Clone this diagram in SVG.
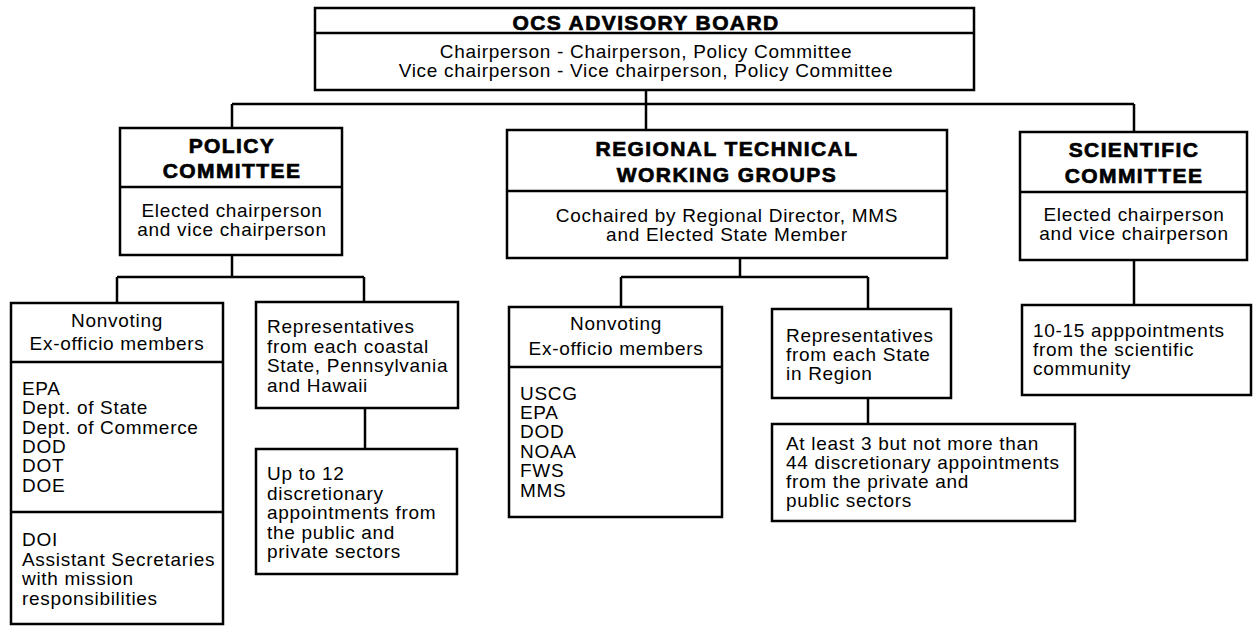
<svg xmlns="http://www.w3.org/2000/svg" width="1253" height="626" viewBox="0 0 1253 626">
<style>
.box{fill:#fff;stroke:#000;stroke-width:2.5}
.div{stroke:#000;stroke-width:2.5}
.con{fill:none;stroke:#000;stroke-width:2.5}
text{font-family:"Liberation Sans",Arial,Helvetica,sans-serif;font-size:19px;letter-spacing:0.7px;fill:#000}
.h{font-weight:bold;font-size:21px;letter-spacing:1.4px;stroke:#000;stroke-width:0.7px}
.c{text-anchor:middle}
</style>
<rect width="1253" height="626" fill="#fff"/>
<g id="connectors">
<path class="con" d="M646 90V130M232 104H1134M232 104V128M1134 104V132"/>
<path class="con" d="M232 255V277M117 277H364M117 277V303M364 277V302M365 408V449"/>
<path class="con" d="M740 258V277M621 277H868M621 277V307M868 277V309M868 398V424"/>
<path class="con" d="M1134 260V305"/>
</g>
<g id="board">
<rect class="box" x="315" y="8" width="659" height="82"/>
<line class="div" x1="315" y1="33" x2="974" y2="33"/>
<text class="h c" x="646" y="30">OCS ADVISORY BOARD</text>
<text class="c" x="646" y="58">Chairperson - Chairperson, Policy Committee</text>
<text class="c" x="646" y="77">Vice chairperson - Vice chairperson, Policy Committee</text>
</g>
<g id="policy">
<rect class="box" x="120" y="128" width="222" height="127"/>
<line class="div" x1="120" y1="187" x2="342" y2="187"/>
<text class="h c" x="232" y="153">POLICY</text>
<text class="h c" x="232" y="178">COMMITTEE</text>
<text class="c" x="232" y="217">Elected chairperson</text>
<text class="c" x="232" y="236">and vice chairperson</text>
</g>
<g id="regional">
<rect class="box" x="507" y="130" width="440" height="128"/>
<line class="div" x1="507" y1="191" x2="947" y2="191"/>
<text class="h c" x="727" y="156">REGIONAL TECHNICAL</text>
<text class="h c" x="727" y="182">WORKING GROUPS</text>
<text class="c" x="727" y="222">Cochaired by Regional Director, MMS</text>
<text class="c" x="727" y="241">and Elected State Member</text>
</g>
<g id="scientific">
<rect class="box" x="1020" y="132" width="227" height="128"/>
<line class="div" x1="1020" y1="192" x2="1247" y2="192"/>
<text class="h c" x="1134" y="157">SCIENTIFIC</text>
<text class="h c" x="1134" y="183">COMMITTEE</text>
<text class="c" x="1134" y="221">Elected chairperson</text>
<text class="c" x="1134" y="240">and vice chairperson</text>
</g>
<g id="policy-nonvoting">
<rect class="box" x="11" y="303" width="212" height="321"/>
<line class="div" x1="11" y1="362" x2="223" y2="362"/>
<line class="div" x1="11" y1="512" x2="223" y2="512"/>
<text class="c" x="117" y="327">Nonvoting</text>
<text class="c" x="117" y="350">Ex-officio members</text>
<text x="22" y="395">EPA</text>
<text x="22" y="414">Dept. of State</text>
<text x="22" y="433.5">Dept. of Commerce</text>
<text x="22" y="453">DOD</text>
<text x="22" y="472">DOT</text>
<text x="22" y="491.5">DOE</text>
<text x="22" y="546">DOI</text>
<text x="22" y="565.5">Assistant Secretaries</text>
<text x="22" y="585">with mission</text>
<text x="22" y="604.5">responsibilities</text>
</g>
<g id="policy-reps">
<rect class="box" x="256" y="302" width="202" height="106"/>
<text x="267" y="333">Representatives</text>
<text x="267" y="352.5">from each coastal</text>
<text x="267" y="372">State, Pennsylvania</text>
<text x="267" y="391.5">and Hawaii</text>
</g>
<g id="policy-appointments">
<rect class="box" x="256" y="449" width="201" height="125"/>
<text x="267" y="480">Up to 12</text>
<text x="267" y="499.5">discretionary</text>
<text x="267" y="519">appointments from</text>
<text x="267" y="538.5">the public and</text>
<text x="267" y="558">private sectors</text>
</g>
<g id="regional-nonvoting">
<rect class="box" x="509" y="307" width="213" height="210"/>
<line class="div" x1="509" y1="367" x2="722" y2="367"/>
<text class="c" x="616" y="330">Nonvoting</text>
<text class="c" x="616" y="355">Ex-officio members</text>
<text x="520" y="400">USCG</text>
<text x="520" y="419">EPA</text>
<text x="520" y="438">DOD</text>
<text x="520" y="457.5">NOAA</text>
<text x="520" y="477">FWS</text>
<text x="520" y="496.5">MMS</text>
</g>
<g id="regional-reps">
<rect class="box" x="772" y="309" width="179" height="89"/>
<text x="786" y="342">Representatives</text>
<text x="786" y="361">from each State</text>
<text x="786" y="380">in Region</text>
</g>
<g id="regional-appointments">
<rect class="box" x="772" y="424" width="303" height="97"/>
<text x="786" y="450">At least 3 but not more than</text>
<text x="786" y="469">44 discretionary appointments</text>
<text x="786" y="488">from the private and</text>
<text x="786" y="507">public sectors</text>
</g>
<g id="scientific-appointments">
<rect class="box" x="1022" y="305" width="229" height="90"/>
<text x="1033" y="337">10-15 apppointments</text>
<text x="1033" y="356">from the scientific</text>
<text x="1033" y="375">community</text>
</g>
</svg>
